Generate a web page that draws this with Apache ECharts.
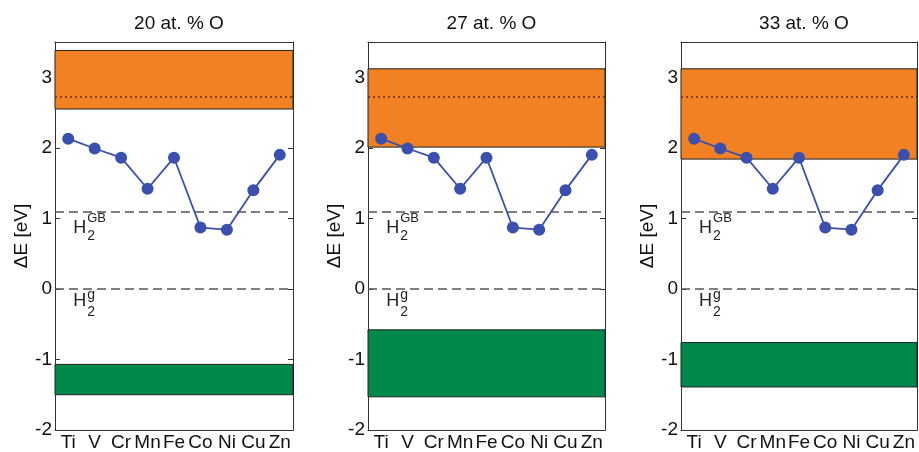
<!DOCTYPE html>
<html><head><meta charset="utf-8">
<script src="https://cdn.jsdelivr.net/npm/echarts@6/dist/echarts.min.js"></script>
<style>html,body{margin:0;padding:0;background:#fff}#c{width:919px;height:452px}</style>
</head><body><div id="c"></div>
<script>
const categories = ['Ti','V','Cr','Mn','Fe','Co','Ni','Cu','Zn'];
const deltaE = [2.13, 1.99, 1.86, 1.42, 1.86, 0.87, 0.84, 1.40, 1.90];
const titles = ['20 at. % O', '27 at. % O', '33 at. % O'];
const orangeTop = [3.38, 3.12, 3.12];
const orangeBottom = [2.55, 2.01, 1.84];
const greenTop = [-1.07, -0.58, -0.76];
const greenBottom = [-1.50, -1.53, -1.39];
const dottedLevel = 2.73;
const h2GB = 1.1;
const h2g = 0;
const yTicks = [-2, -1, 0, 1, 2, 3];

const FONT = 'Liberation Sans, Arial, sans-serif';
const grids = [
  {left: 55, width: 238, top: 42, height: 388},
  {left: 368, width: 237, top: 42, height: 388},
  {left: 681, width: 236, top: 42, height: 388}
];
const axisLine = {onZero: false, lineStyle: {color: '#333', width: 1}};
const option = {
  animation: false,
  backgroundColor: '#fff',
  title: [], grid: grids, xAxis: [], yAxis: [], series: []
};
grids.forEach((g, i) => {
  option.title.push({
    text: titles[i], left: g.left + g.width / 2, top: 9, textAlign: 'center',
    textStyle: {fontFamily: FONT, fontSize: 19, fontWeight: 'normal', color: '#111'}
  });
  option.xAxis.push({
    type: 'category', data: categories, gridIndex: i, position: 'bottom', boundaryGap: true,
    axisLine: axisLine,
    axisTick: {inside: true, length: 5, alignWithLabel: true, lineStyle: {color: '#333'}},
    axisLabel: {fontFamily: FONT, fontSize: 19, color: '#111', margin: 3, interval: 0}
  });
  option.xAxis.push({
    type: 'category', data: categories, gridIndex: i, position: 'top', boundaryGap: true,
    axisLine: axisLine,
    axisTick: {inside: true, length: 5, alignWithLabel: true, lineStyle: {color: '#333'}},
    axisLabel: {show: false}
  });
  option.yAxis.push({
    type: 'value', gridIndex: i, min: -2, max: 3.5, interval: 1, position: 'left',
    name: 'ΔE [eV]', nameLocation: 'middle', nameGap: 22,
    nameTextStyle: {fontFamily: FONT, fontSize: 19, color: '#111'},
    axisLine: {show: true, onZero: false, lineStyle: {color: '#333', width: 1}},
    axisTick: {show: true, inside: true, length: 5, lineStyle: {color: '#333'}},
    axisLabel: {fontFamily: FONT, fontSize: 19, color: '#111', margin: 3, showMaxLabel: false,
      formatter: v => yTicks.includes(v) ? String(v) : ''},
    splitLine: {show: false}
  });
  option.yAxis.push({
    type: 'value', gridIndex: i, min: -2, max: 3.5, interval: 1, position: 'right',
    axisLine: {show: true, onZero: false, lineStyle: {color: '#333', width: 1}},
    axisTick: {show: true, inside: true, length: 5, lineStyle: {color: '#333'}},
    axisLabel: {show: false}, splitLine: {show: false}
  });
  const lbl = (x, y, text, size, dx, dy) => ({
    coord: [x, y], symbol: 'circle', symbolSize: 0,
    label: {show: true, position: 'inside', formatter: text, offset: [dx, dy],
      align: 'left', verticalAlign: 'middle', fontFamily: FONT, fontSize: size, color: '#222'}
  });
  option.series.push({
    type: 'line', xAxisIndex: 2 * i, yAxisIndex: 2 * i, data: deltaE,
    symbol: 'circle', symbolSize: 12, z: 5,
    lineStyle: {color: '#3b4fae', width: 1.8},
    itemStyle: {color: '#3b4fae'},
    markArea: {
      silent: true,
      data: [
        [{yAxis: orangeTop[i], itemStyle: {color: '#f18122', borderColor: '#222', borderWidth: 1}}, {yAxis: orangeBottom[i]}],
        [{yAxis: greenTop[i], itemStyle: {color: '#00894a', borderColor: '#222', borderWidth: 1}}, {yAxis: greenBottom[i]}]
      ]
    },
    markLine: {
      silent: true, symbol: 'none', label: {show: false},
      data: [
        {yAxis: dottedLevel, lineStyle: {color: '#6a2a08', type: [2, 3], width: 1.5}},
        {yAxis: h2GB, lineStyle: {color: '#555', type: [9, 5], width: 1.5}},
        {yAxis: h2g, lineStyle: {color: '#555', type: [9, 5], width: 1.5}}
      ]
    },
    markPoint: {
      silent: true,
      data: [
        lbl(0, h2GB, 'H', 18, 5, 16.5),
        lbl(0, h2GB, 'GB', 13, 19, 7.5),
        lbl(0, h2GB, '2', 14, 19, 25),
        lbl(0, h2g, 'H', 18, 5, 12),
        lbl(0, h2g, 'g', 14, 19, 6.5),
        lbl(0, h2g, '2', 14, 19, 23)
      ]
    }
  });
});
const chart = echarts.init(document.getElementById('c'), null, {renderer: 'canvas'});
chart.setOption(option);
</script></body></html>
